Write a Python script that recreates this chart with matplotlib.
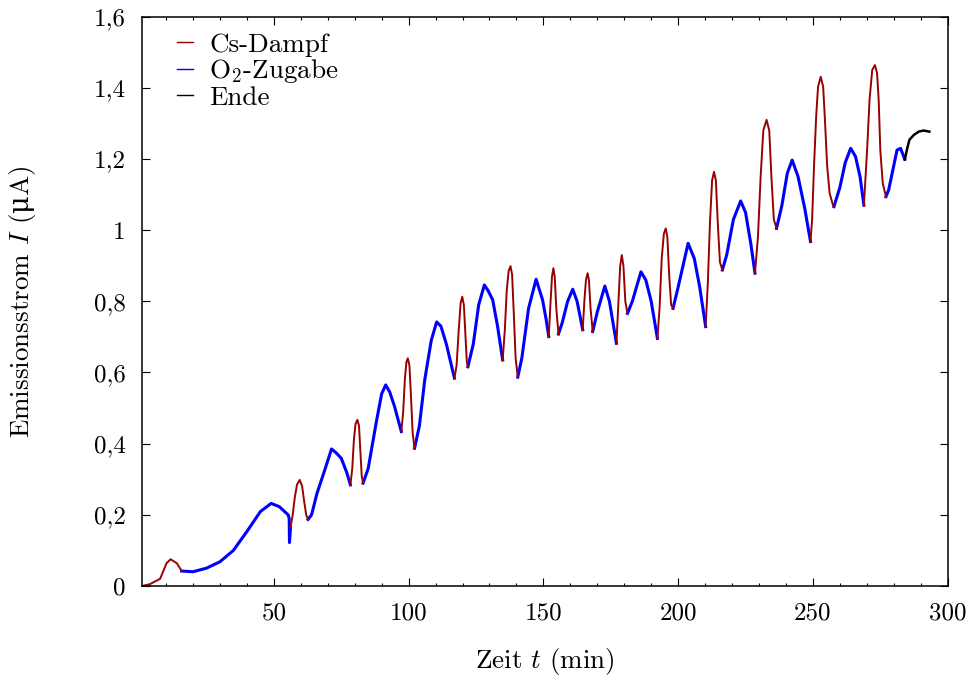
import numpy as np
import matplotlib
matplotlib.use("Agg")
import matplotlib.pyplot as plt
from matplotlib.lines import Line2D

plt.rcParams['font.family'] = ['cmr10', 'DejaVu Serif']
plt.rcParams['mathtext.fontset'] = 'custom'
plt.rcParams['mathtext.rm'] = 'cmr10'
plt.rcParams['mathtext.it'] = 'cmmi10'
plt.rcParams['mathtext.sf'] = 'DejaVu Serif'
plt.rcParams['axes.unicode_minus'] = False

nan = np.nan

# Cs-Dampf Phasen (rot), NaN trennt die einzelnen Pulse
cs_t = [1.2, 4, 7.8, 10.2, 11.7, 14, 15.8, nan,
        56.2, 57, 57.8, 58.6, 59.6, 60.5, 61.3, 62, 62.7, nan,
        78.4, 79.1, 79.7, 80.3, 81, 81.6, 82.1, 82.6, 83.1, nan,
        97.3, 98, 98.6, 99.2, 99.7, 100.3, 100.9, 101.5, 102.2, nan,
        117, 117.8, 118.6, 119.3, 119.9, 120.5, 121.1, 121.6, 122, nan,
        134.9, 135.7, 136.4, 137.1, 137.8, 138.4, 139, 139.7, 140.5, nan,
        152, 152.6, 153.2, 153.7, 154.2, 154.8, 155.6, nan,
        164.6, 165.2, 165.8, 166.4, 166.9, 167.5, 168.3, nan,
        177.1, 177.8, 178.5, 179.1, 179.7, 180.4, 181.2, nan,
        192.3, 193.1, 193.9, 194.7, 195.4, 196, 196.7, 197.4, 198.1, nan,
        210.2, 211, 211.8, 212.6, 213.3, 214, 214.7, 215.5, 216.4, nan,
        228.5, 229.6, 230.6, 231.6, 232.8, 233.8, 234.6, 235.5, 236.5, nan,
        249.1, 249.7, 250.4, 251.2, 251.9, 252.9, 253.8, 254.4, 255.3, 256.2, 257.4, 257.8, nan,
        268.9, 270.1, 271, 272, 273, 273.8, 274.4, 275, 275.9, 277.1]
cs_i = [0.0, 0.005, 0.02, 0.064, 0.075, 0.064, 0.042, nan,
        0.165, 0.20, 0.25, 0.285, 0.298, 0.28, 0.235, 0.20, 0.187, nan,
        0.284, 0.33, 0.41, 0.455, 0.467, 0.45, 0.38, 0.31, 0.289, nan,
        0.434, 0.49, 0.58, 0.63, 0.64, 0.62, 0.53, 0.43, 0.387, nan,
        0.584, 0.62, 0.72, 0.795, 0.813, 0.79, 0.70, 0.63, 0.616, nan,
        0.635, 0.72, 0.83, 0.885, 0.899, 0.875, 0.77, 0.64, 0.587, nan,
        0.701, 0.79, 0.87, 0.893, 0.87, 0.78, 0.708, nan,
        0.72, 0.80, 0.86, 0.879, 0.86, 0.78, 0.715, nan,
        0.682, 0.79, 0.90, 0.93, 0.90, 0.80, 0.766, nan,
        0.696, 0.78, 0.92, 0.99, 1.005, 0.98, 0.87, 0.79, 0.78, nan,
        0.729, 0.85, 1.02, 1.14, 1.164, 1.14, 1.02, 0.91, 0.888, nan,
        0.879, 0.98, 1.15, 1.28, 1.31, 1.28, 1.15, 1.03, 1.005, nan,
        0.968, 1.03, 1.178, 1.319, 1.403, 1.431, 1.403, 1.319, 1.178, 1.104, 1.071, 1.066, nan,
        1.068, 1.225, 1.366, 1.45, 1.464, 1.441, 1.366, 1.225, 1.132, 1.094]

# O2-Zugabe Phasen (blau)
o2_t = [15.8, 20, 25, 30, 35, 40, 45, 49, 52, 55.3, 55.7, 55.8, 56.2, nan,
        62.7, 64, 66, 68.9, 71.4, 73, 75, 77, 78.4, nan,
        83.1, 85, 88, 90, 91.5, 93, 94.8, 96, 97.3, nan,
        102.2, 104, 106, 108.4, 110.4, 112, 114, 117, nan,
        122, 124, 126, 128.1, 129.5, 131.2, 133, 134.9, nan,
        140.5, 142, 144.5, 147.3, 149.7, 151, 152, nan,
        155.6, 157, 159, 160.9, 162.5, 164.6, nan,
        168.3, 170, 172.8, 174.5, 177.1, nan,
        181.2, 183, 186.2, 188, 190, 192.3, nan,
        198.1, 200, 203.7, 206, 208, 210.2, nan,
        216.4, 218, 220.5, 223.2, 225, 227, 228.5, nan,
        236.5, 238.5, 240.5, 242.3, 244.5, 247, 249.1, nan,
        257.8, 260, 262, 264, 265.8, 267.5, 268.9, nan,
        277.1, 278.1, 281.2, 282.5, 284.1]
o2_i = [0.042, 0.040, 0.050, 0.068, 0.10, 0.153, 0.209, 0.232, 0.223, 0.200, 0.19, 0.122, 0.165, nan,
        0.187, 0.20, 0.26, 0.326, 0.385, 0.375, 0.359, 0.32, 0.284, nan,
        0.289, 0.33, 0.46, 0.54, 0.565, 0.545, 0.504, 0.47, 0.434, nan,
        0.387, 0.45, 0.58, 0.69, 0.742, 0.73, 0.68, 0.584, nan,
        0.616, 0.68, 0.79, 0.846, 0.83, 0.804, 0.73, 0.635, nan,
        0.587, 0.64, 0.78, 0.862, 0.804, 0.75, 0.701, nan,
        0.708, 0.74, 0.80, 0.834, 0.80, 0.72, nan,
        0.715, 0.77, 0.843, 0.80, 0.682, nan,
        0.766, 0.80, 0.883, 0.86, 0.80, 0.696, nan,
        0.78, 0.84, 0.963, 0.92, 0.84, 0.729, nan,
        0.888, 0.93, 1.03, 1.082, 1.05, 0.96, 0.879, nan,
        1.005, 1.07, 1.16, 1.197, 1.15, 1.06, 0.968, nan,
        1.066, 1.12, 1.19, 1.23, 1.207, 1.15, 1.071, nan,
        1.094, 1.113, 1.225, 1.23, 1.199]

# Ende (schwarz)
ende_t = [284.1, 285, 285.8, 287.5, 289.3, 291, 293.2]
ende_i = [1.199, 1.23, 1.254, 1.268, 1.277, 1.28, 1.277]

x_ticks = [50, 100, 150, 200, 250, 300]
y_ticks = [0, 0.2, 0.4, 0.6, 0.8, 1.0, 1.2, 1.4, 1.6]
y_ticklabels = ['0', '0,2', '0,4', '0,6', '0,8', '1', '1,2', '1,4', '1,6']

rot = '#990000'
blau = '#0000ff'

fig = plt.figure(figsize=(9.7, 6.75), dpi=100)
ax = fig.add_axes([0.1467, 0.1319, 0.8303, 0.8434])

ax.plot(o2_t, o2_i, color=blau, lw=2.2, solid_joinstyle='round')
ax.plot(cs_t, cs_i, color=rot, lw=1.4, solid_joinstyle='round')
ax.plot(ende_t, ende_i, color='black', lw=1.8)

ax.set_xlim(1.2, 300)
ax.set_ylim(0, 1.6)
ax.set_xticks(x_ticks)
ax.set_xticklabels([str(v) for v in x_ticks])
ax.set_xticks(np.arange(10, 300, 10), minor=True)
ax.set_yticks(y_ticks)
ax.set_yticklabels(y_ticklabels)

ax.tick_params(which='both', direction='in', top=True, right=True, width=0.8, labelsize=18)
ax.tick_params(which='major', length=5.5, pad=12)
ax.tick_params(which='minor', length=2.5)
ax.tick_params(axis='y', which='minor', left=False, right=False)
for s in ax.spines.values():
    s.set_linewidth(1.1)

ax.set_xlabel('Zeit $t$ (min)', fontsize=19.5)
ax.set_ylabel(r'Emissionsstrom $I$ ($\mathsf{\mu}$A)', fontsize=19.5)
ax.xaxis.set_label_coords(0.5, -0.105)
ax.yaxis.set_label_coords(-0.13, 0.5)

handles = [Line2D([], [], color=rot, lw=1.0),
           Line2D([], [], color=blau, lw=1.0),
           Line2D([], [], color='black', lw=1.0)]
ax.legend(handles, ['Cs-Dampf', 'O$_2$-Zugabe', 'Ende'], loc='upper left',
          bbox_to_anchor=(0.043, 0.972), frameon=False, fontsize=19.5,
          handlelength=0.6, handletextpad=0.6, labelspacing=0.02,
          borderpad=0, borderaxespad=0)

fig.savefig('out.png', dpi=100)
